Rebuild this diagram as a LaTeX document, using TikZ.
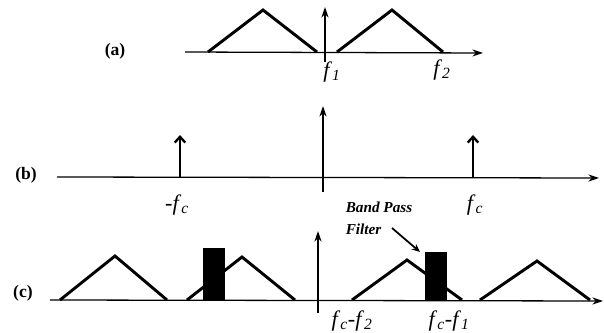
\documentclass[tikz,border=0pt]{standalone}
\usepackage{fontspec}
\setmainfont{Liberation Serif}
\usetikzlibrary{arrows.meta, positioning}
\newcommand{\fsub}[1]{\textit{f}\textsubscript{\textit{#1}}}

\begin{document}
\begin{tikzpicture}[x=0.03cm, y=-0.03cm,
      axis/.style={line width=1.1pt, -{Stealth[length=9pt, width=6pt]}},
      origin/.style={line width=1.3pt, -{Stealth[length=9pt, width=6pt]}},
      spike/.style={line width=2.2pt, -{Straight Barb[length=5pt, width=9pt, line width=2pt]}},
      tri/.style={line width=2.5pt, line join=miter},
      bpf/.style={fill=black, draw=none, inner sep=0pt, outer sep=0pt, minimum width=0.66cm},
      panel/.style={font=\bfseries\fontsize{15}{17}\selectfont},
      freq/.style={font=\fontsize{19}{21}\selectfont, inner sep=1pt},
      note/.style={font=\bfseries\itshape\fontsize{13}{19}\selectfont, align=left, inner sep=0pt},
      pointer/.style={line width=1.5pt, -{Stealth[length=7pt, width=6pt]}}]
      \useasboundingbox (0,0) rectangle (604,333);

      \node[panel] (pa) at (115,51) {(a)};
      \coordinate (aL) at (185,52);
      \coordinate (aR) at (483,53);
      \coordinate (aDn) at (325,62);
      \coordinate (aUp) at (325,7);
      \draw[axis] (aL) -- (aR);
      \draw[tri] (208,52) -- (263,10) -- (317,52);
      \draw[tri] (337,52) -- (392,10) -- (443,52);
      \draw[origin] (aDn) -- (aUp);
      \node[freq] (f1) at (332,72) {\fsub{1}};
      \node[freq] (f2) at (442,70) {\fsub{2}};

      \node[panel] (pb) at (26,175) {(b)};
      \coordinate (bL) at (57,177);
      \coordinate (bR) at (599,178);
      \coordinate (bDn) at (323,192);
      \coordinate (bUp) at (323,106);
      \coordinate (mfc) at (180,177);
      \coordinate (mfcTop) at (180,135);
      \coordinate (pfc) at (473,178);
      \coordinate (pfcTop) at (473,135);
      \draw[axis] (bL) -- (bR);
      \draw[origin] (bDn) -- (bUp);
      \draw[spike] (mfc) -- (mfcTop);
      \draw[spike] (pfc) -- (pfcTop);
      \node[freq] (lmfc) at (177,205) {-\fsub{c}};
      \node[freq] (lpfc) at (475,205) {\fsub{c}};

      \node[panel] (pc) at (23,293) {(c)};
      \coordinate (cL) at (50,300);
      \coordinate (cR) at (603,301);
      \coordinate (cDn) at (318,313);
      \coordinate (cUp) at (318,231);
      \draw[axis] (cL) -- (cR);
      \draw[tri] (60,300) -- (115,256) -- (167,300);
      \draw[tri] (187,300) -- (242,257) -- (295,300);
      \draw[tri] (352,300) -- (407,260) -- (462,300);
      \draw[tri] (480,300) -- (537,261) -- (590,300);
      \draw[origin] (cDn) -- (cUp);
      \node[bpf, minimum height=1.59cm] (bpf1) at (214,274.5) {};
      \node[bpf, minimum height=1.47cm] (bpf2) at (436,276.5) {};
      \node[note] (bpflabel) at (379,218) {Band Pass\\Filter};
      \coordinate (tail) at (392,228);
      \draw[pointer] (tail) -- ([xshift=-0.15cm]bpf2.north west);
      \node[freq] (ldiff2) at (352,321) {\fsub{c}-\fsub{2}};
      \node[freq] (ldiff1) at (449,321) {\fsub{c}-\fsub{1}};
\end{tikzpicture}
\end{document}
